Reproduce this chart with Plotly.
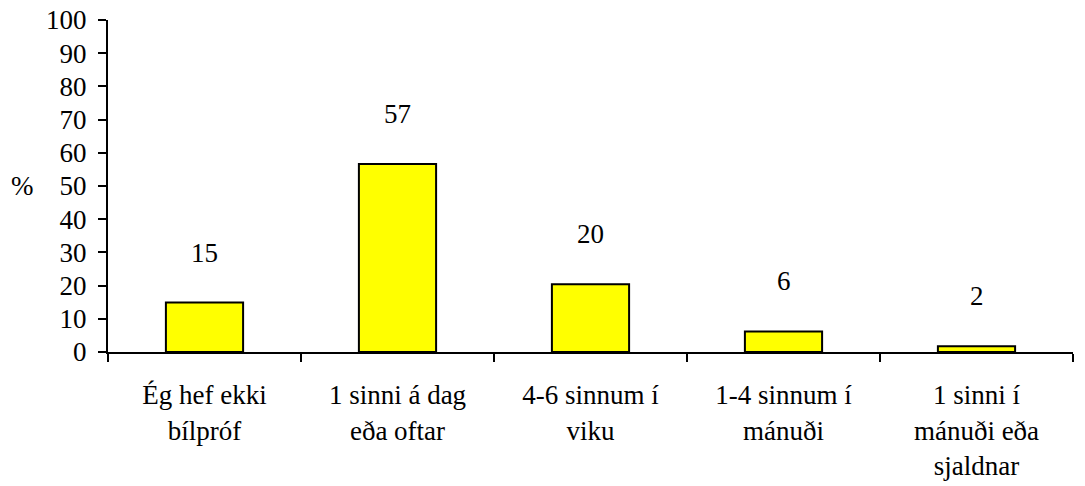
import plotly.graph_objects as go

categories = [
    "Ég hef ekki<br>bílpróf",
    "1 sinni á dag<br>eða oftar",
    "4-6 sinnum í<br>viku",
    "1-4 sinnum í<br>mánuði",
    "1 sinni í<br>mánuði eða<br>sjaldnar",
]
values = [14.9, 56.6, 20.4, 6.2, 1.7]
labels = ["15", "57", "20", "6", "2"]
y_ticks = list(range(0, 101, 10))

FONT = "Liberation Serif"
SIZE = 27

fig = go.Figure()
fig.add_trace(go.Bar(
    x=categories,
    y=values,
    width=0.4,
    marker=dict(color="#FFFF00", line=dict(color="black", width=2)),
    hoverinfo="skip",
))

for c, v, t in zip(categories, values, labels):
    fig.add_annotation(x=c, y=v, text=t, showarrow=False, yshift=50,
                       yanchor="middle", xanchor="center",
                       font=dict(family=FONT, size=SIZE, color="black"))

fig.add_annotation(xref="paper", yref="y", x=-0.089, y=50, text="%",
                   showarrow=False, xanchor="center", yanchor="middle",
                   font=dict(family=FONT, size=SIZE, color="black"))

fig.update_layout(
    width=1085, height=486,
    margin=dict(l=100, r=20, t=12, b=142),
    plot_bgcolor="white", paper_bgcolor="white",
    showlegend=False,
    bargap=0.6,
)
fig.update_xaxes(
    type="category", tickson="boundaries", automargin=False,
    showline=True, linecolor="black", linewidth=2,
    ticks="outside", ticklen=8, tickwidth=2, tickcolor="black",
    showgrid=False, zeroline=False,
    tickfont=dict(family=FONT, size=SIZE, color="black"),
    ticklabelstandoff=18, ticklabeloverflow="allow",
)
fig.update_yaxes(
    range=[0, 100], tickvals=y_ticks, automargin=False,
    showline=True, linecolor="black", linewidth=2,
    ticks="outside", ticklen=8, tickwidth=2, tickcolor="black",
    showgrid=False, zeroline=False,
    tickfont=dict(family=FONT, size=SIZE, color="black"),
    ticklabelstandoff=6, ticklabeloverflow="allow",
)

fig.write_html("out.html")
